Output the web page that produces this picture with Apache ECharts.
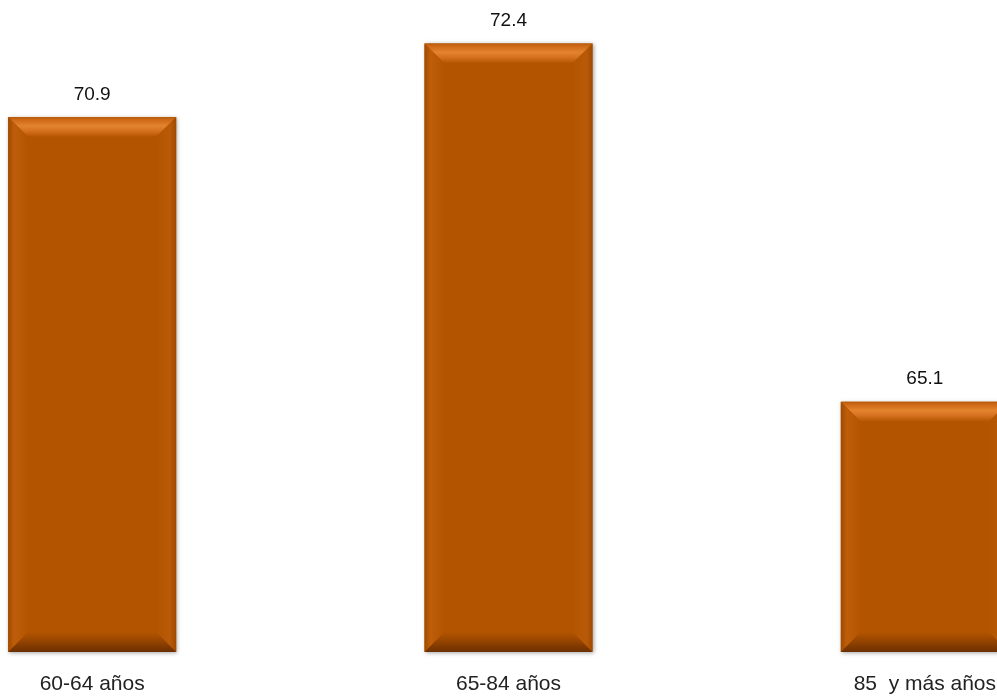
<!DOCTYPE html>
<html><head><meta charset="utf-8">
<script src="https://cdn.jsdelivr.net/npm/echarts@6/dist/echarts.min.js"></script>
<style>html,body{margin:0;padding:0;background:#fff;overflow:hidden;width:997px;height:696px}
#c{width:1249px;height:696px;margin-left:-116px}</style>
</head><body><div id="c"></div>
<script>
const categories = ["60-64 años", "65-84 años", "85  y más años"];
const values = [70.9, 72.4, 65.1];

const chart = echarts.init(document.getElementById('c'), null, {renderer: 'canvas'});
const fontFamily = '"Liberation Sans", Arial, sans-serif';
const BAR_W = 168, BEV = 20;

function lin(x, y, x2, y2, stops) {
  return {type: 'linear', x: x, y: y, x2: x2, y2: y2, colorStops: stops.map(s => ({offset: s[0], color: s[1]}))};
}

chart.setOption({
  animation: false,
  backgroundColor: '#fff',
  grid: {left: 0, right: 0, top: 14, bottom: 44, containLabel: false},
  xAxis: {
    type: 'category', data: categories,
    axisLine: {show: false}, axisTick: {show: false},
    axisLabel: {color: '#222', fontSize: 21, fontFamily: fontFamily, margin: 22}
  },
  yAxis: {type: 'value', min: 60, max: 73, show: false, splitLine: {show: false}},
  series: [{
    type: 'custom',
    data: values.map((v, i) => [i, v]),
    encode: {x: 0, y: 1},
    renderItem: function (params, api) {
      const i = api.value(0), v = api.value(1);
      const top = api.coord([i, v]);
      const base = api.coord([i, 60]);
      const x0 = top[0] - BAR_W / 2, x1 = top[0] + BAR_W / 2;
      const yT = top[1], yB = base[1];
      const b = BEV;
      return {
        type: 'group',
        children: [
          {type: 'rect', shape: {x: x0, y: yT, width: BAR_W, height: yB - yT},
           style: {fill: '#B35400', shadowColor: 'rgba(0,0,0,0.35)', shadowBlur: 4, shadowOffsetX: 1, shadowOffsetY: 1}},
          {type: 'polygon', shape: {points: [[x0, yT], [x1, yT], [x1 - b, yT + b], [x0 + b, yT + b]]},
           style: {fill: lin(0, 0, 0, 1, [[0, '#B85A08'], [0.15, '#CF6A18'], [0.45, '#E4842E'], [0.7, '#D47020'], [1, '#B35400']])}},
          {type: 'polygon', shape: {points: [[x0, yT], [x0 + b, yT + b], [x0 + b, yB - b], [x0, yB]]},
           style: {fill: lin(0, 0, 1, 0, [[0, '#A04A00'], [0.3, '#BE5E0A'], [1, '#B35400']])}},
          {type: 'polygon', shape: {points: [[x1, yT], [x1 - b, yT + b], [x1 - b, yB - b], [x1, yB]]},
           style: {fill: lin(0, 0, 1, 0, [[0, '#B35400'], [0.7, '#B85A08'], [1, '#A04A00']])}},
          {type: 'polygon', shape: {points: [[x0, yB], [x0 + b, yB - b], [x1 - b, yB - b], [x1, yB]]},
           style: {fill: lin(0, 0, 0, 1, [[0, '#B35400'], [0.4, '#9A4600'], [0.8, '#7A3700'], [1, '#6A3000']])}},
          {type: 'text', style: {text: v.toFixed(1), x: top[0], y: yT - 13, align: 'center', verticalAlign: 'bottom',
            fill: '#111', fontSize: 19, fontFamily: fontFamily}}
        ]
      };
    }
  }]
});
</script></body></html>
